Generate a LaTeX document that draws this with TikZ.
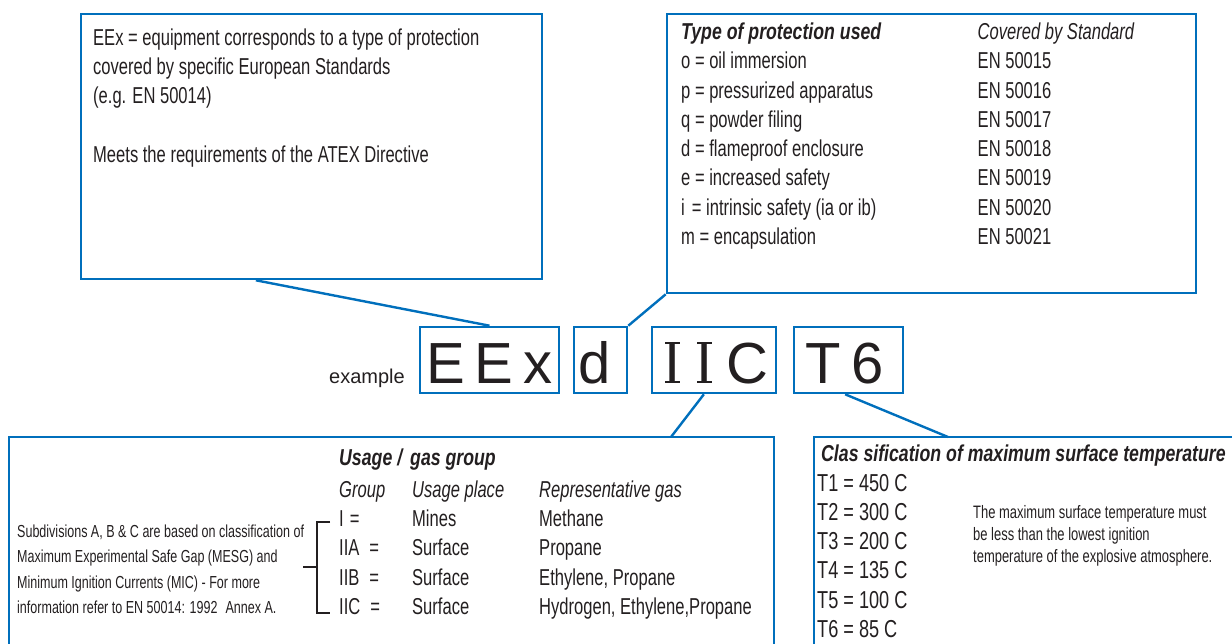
\documentclass[tikz,border=0pt]{standalone}
\usepackage{fontspec}
\setmainfont{Liberation Sans}
\newfontfamily\cond[FakeStretch=0.72]{Liberation Sans}
\newfontfamily\condh[FakeStretch=0.77]{Liberation Sans}
\newfontfamily\condt[FakeStretch=0.74]{Liberation Sans}
\usetikzlibrary{calc}
\definecolor{exblue}{RGB}{0,111,188}
\definecolor{ink}{RGB}{35,31,32}
% serif capital I: a real letter I with thin flat serifs added
\newcommand{\serI}{\makebox[15pt][c]{\makebox[0pt][c]{\rule[0pt]{15pt}{2.4pt}}\makebox[0pt][c]{\rule[39.1pt]{15pt}{2.4pt}}\makebox[0pt][c]{I}}}
\begin{document}
\begin{tikzpicture}[x=1pt,y=-1pt,
  box/.style={draw=exblue, line width=2.6pt, rectangle, inner sep=0pt},
  link/.style={draw=exblue, line width=2.4pt},
  txt/.style={anchor=base west, inner sep=0pt, text=ink, font=\cond\fontsize{23}{27}\selectfont},
  head/.style={txt, font=\condh\bfseries\itshape\fontsize{23}{27}\selectfont},
  ital/.style={txt, font=\cond\itshape\fontsize{23}{27}\selectfont},
  note/.style={txt, font=\cond\fontsize{17.4}{20}\selectfont},
  tnote/.style={txt, font=\cond\fontsize{18}{21}\selectfont},
  trow/.style={txt, font=\condt\fontsize{24.5}{28}\selectfont},
  big/.style={anchor=base, inner sep=0pt, text=ink, font=\fontsize{58}{60}\selectfont},
  bracket/.style={draw=ink, line width=1.2pt},
]
\useasboundingbox (0,0) rectangle (1232,644);

% ---- boxes ----
\node[box, minimum width=461pt, minimum height=265pt] (tl) at (311.5,146.5) {};
\node[box, minimum width=529pt, minimum height=279pt] (tr) at (931.5,153.5) {};
\node[box, minimum width=139pt, minimum height=66pt] (eex) at (489.5,360) {};
\node[box, minimum width=53pt, minimum height=66pt] (dbox) at (600.5,360) {};
\node[box, minimum width=124pt, minimum height=66pt] (iic) at (714,360) {};
\node[box, minimum width=109pt, minimum height=66pt] (t6) at (848.5,360) {};

% partial boxes (cut by the page edge)
\coordinate (blA) at (9,644);
\coordinate (blB) at (9,437);
\coordinate (blC) at (774,437);
\coordinate (blD) at (774,644);
\draw[link, line width=2.6pt] (blA) -- (blB) -- (blC) -- (blD);
\coordinate (brA) at (814,644);
\coordinate (brB) at (814,437);
\coordinate (brC) at (1232,437);
\draw[link, line width=2.6pt] (brA) -- (brB) -- (brC);
\coordinate (blT) at (671,437);
\coordinate (brT) at (948,437);

% ---- connectors ----
\draw[link] ($(tl.south west)!0.38!(tl.south east)$) -- (eex.north);
\draw[link] (dbox.north east) -- (tr.south west);
\draw[link] ($(iic.south west)!0.42!(iic.south east)$) -- (blT);
\draw[link] ($(t6.south west)!0.47!(t6.south east)$) -- (brT);

% ---- example code ----
\node[anchor=base west, inner sep=0pt, text=ink, font=\fontsize{20}{24}\selectfont] (exlbl) at (329,384) {example};
\node[big] (eexT) at (489.5,383) {E\hspace{10pt}E\hspace{10pt}x};
\node[big] (dT) at (595,383) {d};
\node[big] (iicT) at (716.6,383) {\serI\hspace{17pt}\serI\hspace{14.2pt}C};
\node[big] (t6T) at (844.7,383) {T\hspace{11.2pt}6};

% ---- top-left text ----
\node[txt] (tl1) at (93,46) {EEx = equipment corresponds to a type of protection};
\node[txt] (tl2) at (93,75) {covered by specific European Standards};
\node[txt] (tl3) at (93,104) {(e.g. EN 50014)};
\node[txt] (tl4) at (93,163) {Meets the requirements of the ATEX Directive};

% ---- top-right text ----
\node[head] (trh1) at (681,40) {Type of protection used};
\node[ital] (trh2) at (977.5,40) {Covered by Standard};
\node[txt] (tra1) at (681,69) {o = oil immersion};
\node[txt] (trb1) at (977.5,69) {EN 50015};
\node[txt] (tra2) at (681,98.5) {p = pressurized apparatus};
\node[txt] (trb2) at (977.5,98.5) {EN 50016};
\node[txt] (tra3) at (681,128) {q = powder filing};
\node[txt] (trb3) at (977.5,128) {EN 50017};
\node[txt] (tra4) at (681,157) {d = flameproof enclosure};
\node[txt] (trb4) at (977.5,157) {EN 50018};
\node[txt] (tra5) at (681,186) {e = increased safety};
\node[txt] (trb5) at (977.5,186) {EN 50019};
\node[txt] (tra6) at (681,215.5) {i\hspace{7pt}= intrinsic safety (ia or ib)};
\node[txt] (trb6) at (977.5,215.5) {EN 50020};
\node[txt] (tra7) at (681,245) {m = encapsulation};
\node[txt] (trb7) at (977.5,245) {EN 50021};

% ---- bottom-left text ----
\node[head] (blh) at (339,465) {Usage /\hspace{8pt}gas group};
\node[ital] (blc1) at (339,497) {Group};
\node[ital] (blc2) at (412,497) {Usage place};
\node[ital] (blc3) at (539,497) {Representative gas};
\node[txt] (bla1) at (339,526) {I\hspace{6pt}=};
\node[txt] (blb1) at (412,526) {Mines};
\node[txt] (blg1) at (539,526) {Methane};
\node[txt] (bla2) at (339,555) {IIA\hspace{10pt}=};
\node[txt] (blb2) at (412,555) {Surface};
\node[txt] (blg2) at (539,555) {Propane};
\node[txt] (bla3) at (339,585) {IIB\hspace{10pt}=};
\node[txt] (blb3) at (412,585) {Surface};
\node[txt] (blg3) at (539,585) {Ethylene, Propane};
\node[txt] (bla4) at (339,614) {IIC\hspace{10pt}=};
\node[txt] (blb4) at (412,614) {Surface};
\node[txt] (blg4) at (539,614) {Hydrogen, Ethylene,Propane};

\node[note] (bln1) at (17,537) {Subdivisions A, B \& C are based on classification of};
\node[note] (bln2) at (17,562.5) {Maximum Experimental Safe Gap (MESG) and};
\node[note] (bln3) at (17,588) {Minimum Ignition Currents (MIC) - For more};
\node[note] (bln4) at (17,613.5) {information refer to EN 50014: 1992\hspace{8pt}Annex A.};

\coordinate (brkTop) at (317,522);
\coordinate (brkBot) at (317,613);
\coordinate (brkMid) at (317,567);
\draw[bracket] ([xshift=13pt]brkTop) -- (brkTop) -- (brkBot) -- ([xshift=13pt]brkBot);
\draw[bracket] (brkMid) -- ([xshift=-14pt]brkMid);

% ---- bottom-right text ----
\node[head] (brh) at (821,461) {Clas sification of maximum surface temperature};
\node[trow] (brt1) at (817,491) {T1 = 450 C};
\node[trow] (brt2) at (817,520) {T2 = 300 C};
\node[trow] (brt3) at (817,549.5) {T3 = 200 C};
\node[trow] (brt4) at (817,578.5) {T4 = 135 C};
\node[trow] (brt5) at (817,608) {T5 = 100 C};
\node[trow] (brt6) at (817,637) {T6 = 85 C};
\node[tnote] (brn1) at (973,518) {The maximum surface temperature must};
\node[tnote] (brn2) at (973,540) {be less than the lowest ignition};
\node[tnote] (brn3) at (973,562) {temperature of the explosive atmosphere.};
\end{tikzpicture}
\end{document}
